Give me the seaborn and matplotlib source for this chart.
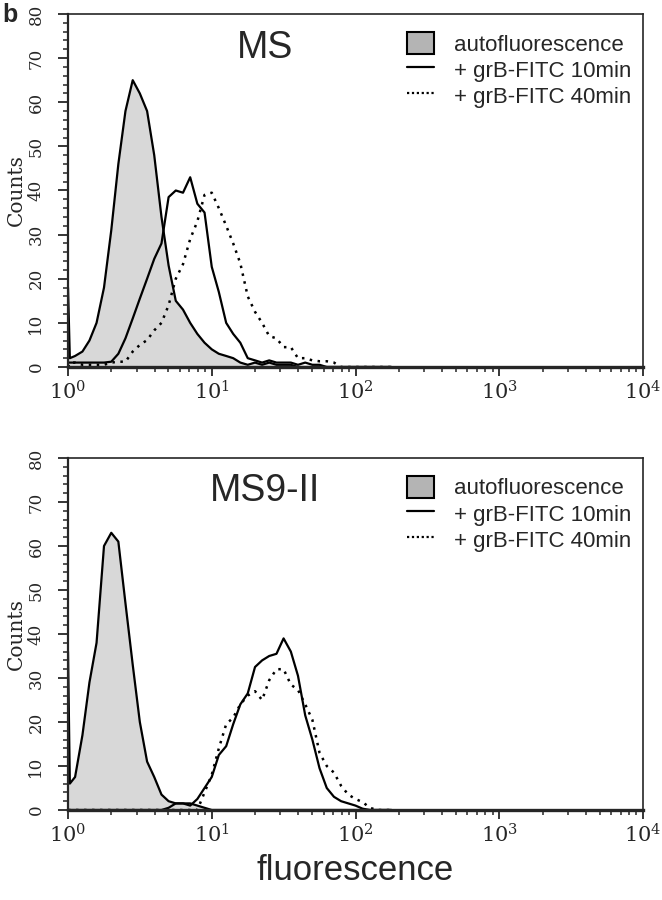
import numpy as np
import pandas as pd
import matplotlib
matplotlib.use("Agg")
import matplotlib.pyplot as plt
from matplotlib.patches import Patch
from matplotlib.lines import Line2D
from matplotlib.ticker import MultipleLocator, LogLocator, NullFormatter
import seaborn as sns

# fluorescence channels
fluor = [1.00, 1.03, 1.12, 1.26, 1.41, 1.58, 1.78, 2.00, 2.24, 2.51, 2.82, 3.16,
         3.55, 3.98, 4.47, 5.01, 5.62, 6.31, 7.08, 7.94, 8.91, 10.0, 11.2, 12.6,
         14.1, 15.8, 17.8, 20.0, 22.4, 25.1, 28.2, 31.6, 35.5, 39.8, 44.7, 50.1,
         56.2, 63.1, 70.8, 79.4, 89.1, 100, 112, 126, 141, 158, 178]

# panel MS
ms_auto = [18, 2, 2.5, 3.5, 6, 10, 18, 31, 46, 58, 65, 62,
           58, 48, 34, 23, 15, 13, 10, 7.5, 5.5, 4, 3, 2.5,
           2, 1, 0.5, 1, 0.5, 1, 0.5, 0.5, 0.5, 0, 0, 0,
           0, 0, 0, 0, 0, 0, 0, 0, 0, 0, 0]
ms_10min = [1, 1, 1, 1, 1, 1, 1, 1.2, 3, 6.5, 11, 15.5,
            20, 24.5, 28, 38.5, 40, 39.5, 43, 37, 35, 22.7, 17, 10,
            7.5, 5.5, 2, 1.5, 1, 1.5, 1, 1, 1, 0.5, 1, 0.5,
            0.5, 0, 0, 0, 0, 0, 0, 0, 0, 0, 0]
ms_40min = [0, 1, 1, 0.5, 0.5, 0.5, 0.5, 1, 1.2, 1.2, 3.5, 5,
            6.1, 8.3, 10, 14, 20, 23.3, 29, 33, 39, 39.5, 36, 32,
            28, 23.5, 16, 12.5, 10, 7, 6.5, 4.5, 4.5, 2, 2, 1.5,
            1.3, 1.3, 1, 0, 0, 0, 0, 0, 0, 0, 0]

# panel MS9-II
ms9_auto = [36, 6, 7.5, 17, 29, 38, 60, 63, 61, 47, 33, 20,
            11, 7.5, 3.5, 2, 1.5, 1.5, 1.5, 1, 0.5, 0, 0, 0,
            0, 0, 0, 0, 0, 0, 0, 0, 0, 0, 0, 0,
            0, 0, 0, 0, 0, 0, 0, 0, 0, 0, 0]
ms9_10min = [0, 0, 0, 0, 0, 0, 0, 0, 0, 0, 0, 0,
             0, 0, 0, 0.5, 1.5, 1.5, 1, 2.5, 5, 7.5, 12.5, 14.5,
             19.5, 24, 26.5, 32.5, 34, 35, 35.5, 39, 36, 30.5, 21.5, 16,
             9.5, 5, 3, 2, 1.5, 1, 0.3, 0, 0, 0, 0]
ms9_40min = [0, 0, 0, 0, 0, 0, 0, 0, 0, 0, 0, 0,
             0, 0, 0, 0, 0, 0, 0, 0, 4, 8, 14, 19.5,
             21, 24, 26, 27, 25, 29.5, 32, 32, 28.5, 27.3, 24, 20.5,
             13, 10, 8.5, 5.5, 3.5, 2.5, 1.8, 0.5, 0, 0, 0]

panel_names = ["MS", "MS9-II"]
legend_labels = ["autofluorescence", "+ grB-FITC 10min", "+ grB-FITC 40min"]
xtick_vals = [1, 10, 100, 1000, 10000]
xtick_labels = [r"$10^{0}$", r"$10^{1}$", r"$10^{2}$", r"$10^{3}$", r"$10^{4}$"]

sns.set_style("ticks")
plt.rcParams["font.family"] = ["DejaVu Serif"]
plt.rcParams["mathtext.fontset"] = "dejavuserif"
sans = ["Liberation Sans", "DejaVu Sans"]

fig = plt.figure(figsize=(6.62, 9), dpi=100)
ax_top = fig.add_axes([68 / 662, 1 - 367 / 900, 575 / 662, 353 / 900])
ax_bot = fig.add_axes([68 / 662, 1 - 810 / 900, 575 / 662, 352 / 900])

dots = (0, (1, 2.2))
panels = [(ax_top, ms_auto, ms_10min, ms_40min, panel_names[0]),
          (ax_bot, ms9_auto, ms9_10min, ms9_40min, panel_names[1])]

for ax, auto, m10, m40, name in panels:
    ax.set_xscale("log")
    ax.fill_between(fluor, auto, color="#d8d8d8", lw=0, zorder=1)
    sns.lineplot(x=fluor, y=auto, ax=ax, color="black", lw=1.6, zorder=3)
    sns.lineplot(x=fluor, y=m10, ax=ax, color="black", lw=1.6, zorder=4)
    sns.lineplot(x=fluor, y=m40, ax=ax, color="black", lw=1.8,
                 linestyle=dots, zorder=4)

    ax.set_xlim(1, 10000)
    ax.set_ylim(0, 80)
    ax.set_xticks(xtick_vals)
    ax.set_xticklabels(xtick_labels, fontsize=15)
    ax.xaxis.set_minor_locator(LogLocator(base=10, subs=np.arange(2, 10)))
    ax.xaxis.set_minor_formatter(NullFormatter())
    ax.set_yticks(range(0, 90, 10))
    ax.yaxis.set_minor_locator(MultipleLocator(2))
    ax.tick_params(axis="y", which="major", length=7, width=1.3,
                   labelsize=12, labelrotation=90, pad=10)
    ax.tick_params(axis="y", which="minor", length=3.5, width=1.1)
    ax.tick_params(axis="x", which="major", length=6.5, width=1.3, pad=3)
    ax.tick_params(axis="x", which="minor", length=3.5, width=1.1)
    for lab in ax.get_yticklabels():
        lab.set_va("center")

    ax.spines["bottom"].set_linewidth(2.4)
    ax.spines["left"].set_linewidth(1.6)
    ax.spines["top"].set_linewidth(1.2)
    ax.spines["right"].set_linewidth(1.2)
    for s in ax.spines.values():
        s.set_zorder(5)

    ax.set_xlabel("")
    ax.set_ylabel("Counts", fontsize=14.5)
    ax.yaxis.set_label_coords(-0.073, 0.5)

    ax.text(0.343, 0.905, name, transform=ax.transAxes, ha="center",
            va="center", fontsize=27, family=sans)

    handles = [Patch(facecolor="#b4b4b4", edgecolor="black", lw=1.5),
               Line2D([], [], color="black", lw=1.6),
               Line2D([], [], color="black", lw=1.6, linestyle=(0, (1, 1.2)))]
    ax.legend(handles, legend_labels, loc="upper left",
              bbox_to_anchor=(0.59, 0.95), frameon=False, borderpad=0,
              borderaxespad=0, handlelength=1.2, handleheight=1.2,
              handletextpad=0.9, labelspacing=0.1,
              prop={"family": sans, "size": 16})

fig.text(355 / 662, 1 - 870 / 900, "fluorescence", ha="center", va="center",
         fontsize=25, family=sans)
fig.text(2 / 662, 1 - 3 / 900, "b", ha="left", va="top", fontsize=18,
         fontweight="bold", family=sans)

fig.savefig("out.png", dpi=100)
